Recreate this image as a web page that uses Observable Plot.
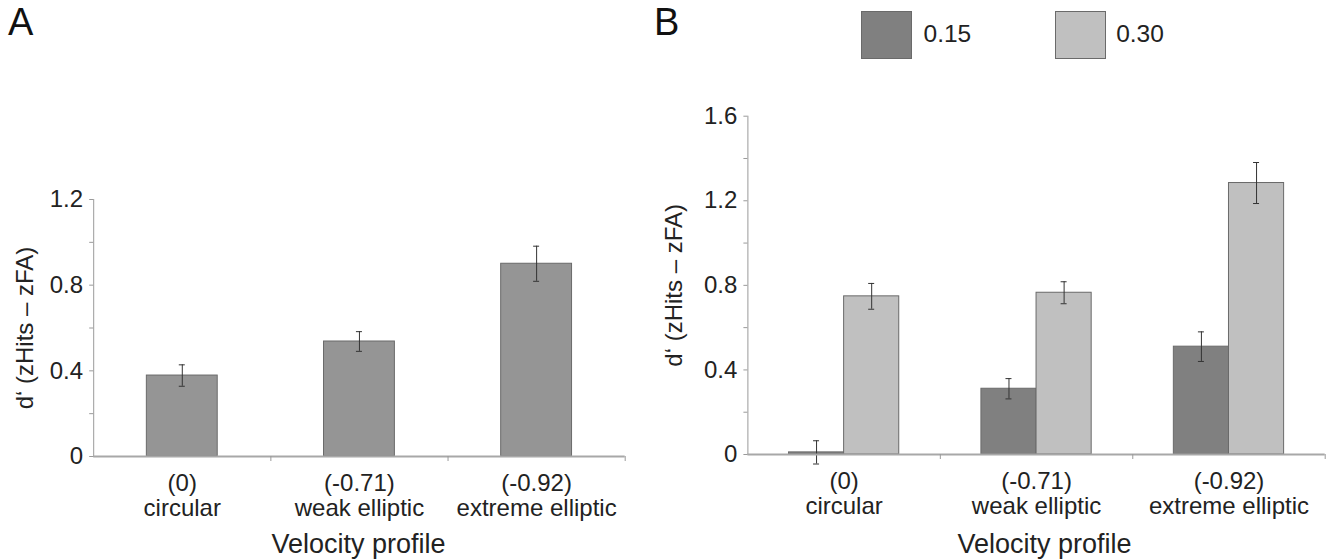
<!DOCTYPE html>
<html><head><meta charset="utf-8">
<script src="https://cdn.jsdelivr.net/npm/d3@7"></script>
<script src="https://cdn.jsdelivr.net/npm/@observablehq/plot@0.6"></script>
<style>
body{margin:0;background:#fff;}
#wrap{position:relative;width:1328px;height:560px;overflow:hidden;font-family:"Liberation Sans",Arial,sans-serif;color:#222;background:#fff;}
.abs{position:absolute;white-space:nowrap;}
</style></head><body><div id="wrap"></div>
<script>
// ---- data ----
const categories = ["circular", "weak elliptic", "extreme elliptic"];
const categoryCodes = ["(0)", "(-0.71)", "(-0.92)"];
const panelAValues = [0.378, 0.537, 0.900];
const panelAErrors = [0.050, 0.046, 0.082];
const seriesNames = ["0.15", "0.30"];
const seriesColors = ["#808080", "#c0c0c0"];
const panelB015Values = [0.010, 0.311, 0.510];
const panelB015Errors = [0.055, 0.048, 0.070];
const panelB030Values = [0.748, 0.765, 1.284];
const panelB030Errors = [0.061, 0.052, 0.097];
const yTicksA = [0, 0.4, 0.8, 1.2];
const yMinorA = [0.2, 0.6, 1.0];
const yTicksB = [0, 0.4, 0.8, 1.2, 1.6];
const yMinorB = [0.2, 0.6, 1.0, 1.4];
const xLabel = "Velocity profile";
const yLabel = "d\u2018 (zHits \u2013 zFA)";
const panelLabels = ["A", "B"];

const wrap = document.getElementById("wrap");
const FONT = "'Liberation Sans', Arial, sans-serif";

function makePanel(cfg) {
  const {width, height, marginLeft, marginRight, marginTop, marginBottom,
         yMax, yTicks, yMinor, series, yLabelDx, xLabelDx} = cfg;
  const paddingInner = cfg.paddingInner, paddingOuter = paddingInner / 2;
  const sc = Plot.scale({x: {type: "band", domain: categories, range: [marginLeft, width - marginRight],
                             paddingInner, paddingOuter, round: false}});
  const bw = sc.bandwidth;
  const step = sc.step ?? bw / (1 - paddingInner);
  const k = series.length;
  const sub = bw / k;
  const cap = 3;
  const marks = [];
  series.forEach((s, si) => {
    const data = categories.map((c, i) => ({cat: c, v: s.values[i], e: s.errors[i]}));
    marks.push(Plot.barY(data, {x: "cat", y: "v", fill: s.color, stroke: "#6a6a6a", strokeWidth: 1,
      insetLeft: si * sub, insetRight: (k - 1 - si) * sub}));
  });
  series.forEach((s, si) => {
    const data = categories.map((c, i) => ({cat: c, v: s.values[i], e: s.errors[i]}));
    const dx = (si + 0.5) * sub - bw / 2;
    marks.push(Plot.ruleX(data, {x: "cat", y1: d => d.v - d.e, y2: d => d.v + d.e, dx, stroke: "#333", strokeWidth: 1}));
    const iL = si * sub + sub / 2 - cap, iR = (k - 1 - si) * sub + sub / 2 - cap;
    marks.push(Plot.tickY(data, {x: "cat", y: d => d.v + d.e, insetLeft: iL, insetRight: iR, stroke: "#333", strokeWidth: 1}));
    marks.push(Plot.tickY(data, {x: "cat", y: d => d.v - d.e, insetLeft: iL, insetRight: iR, stroke: "#333", strokeWidth: 1}));
  });
  return Plot.plot({
    width, height, marginLeft, marginRight, marginTop, marginBottom,
    style: {fontFamily: FONT, fontSize: "24px", color: "#222", background: "transparent", overflow: "visible"},
    x: {type: "band", domain: categories, paddingInner, paddingOuter, round: false},
    y: {domain: [0, yMax]},
    marks: [
      ...marks,
      Plot.frame({anchor: "left", stroke: "#9a9a9a", strokeWidth: 1}),
      Plot.ruleY([0], {stroke: "#a8a8a8", strokeWidth: 2}),
      Plot.ruleX(categories, {x: d => d, dx: step / 2, y1: 0, y2: 0, insetBottom: -5, stroke: "#9a9a9a", strokeWidth: 1}),
      Plot.axisY({ticks: yTicks, tickSize: 4, tickPadding: 6.6, tickFormat: d => String(d), label: null, stroke: "#9a9a9a", fontSize: 24}),
      Plot.axisY({ticks: yMinor, tickSize: 4, tickFormat: () => "", label: null, stroke: "#9a9a9a"}),
      Plot.axisX({tickSize: 0, tickPadding: 17, lineHeight: 1.04, label: null, fontSize: 24,
        tickFormat: d => categoryCodes[categories.indexOf(d)] + "\n" + d}),
      Plot.text([xLabel], {frameAnchor: "bottom", textAnchor: "middle", lineAnchor: "middle",
        dy: cfg.xLabelDy, dx: xLabelDx, fontSize: 27}),
      Plot.text([yLabel], {frameAnchor: "left", textAnchor: "middle", lineAnchor: "middle",
        rotate: -90, dx: yLabelDx, fontSize: 24})
    ]
  });
}

const plotA = makePanel({
  width: 640, height: 560, marginLeft: 93.2, marginRight: 15.3, marginTop: 199, marginBottom: 104,
  yMax: 1.2, yTicks: yTicksA, yMinor: yMinorA, paddingInner: 0.6,
  series: [{values: panelAValues, errors: panelAErrors, color: "#959595"}],
  yLabelDx: 25 - 93.2, xLabelDx: -1, xLabelDy: 87.4
});
plotA.classList.add("abs");
plotA.style.left = "0px"; plotA.style.top = "0px";
wrap.appendChild(plotA);

const plotB = makePanel({
  width: 688, height: 560, marginLeft: 107.4, marginRight: 3.3, marginTop: 115.7, marginBottom: 106,
  yMax: 1.6, yTicks: yTicksB, yMinor: yMinorB, paddingInner: 0.427,
  series: [
    {values: panelB015Values, errors: panelB015Errors, color: seriesColors[0]},
    {values: panelB030Values, errors: panelB030Errors, color: seriesColors[1]}
  ],
  yLabelDx: 674 - 747.4, xLabelDx: 8, xLabelDy: 89.4
});
plotB.classList.add("abs");
plotB.style.left = "640px"; plotB.style.top = "0px";
wrap.appendChild(plotB);

// panel letters
[[panelLabels[0], 8], [panelLabels[1], 654]].forEach(([t, left]) => {
  const d = document.createElement("div");
  d.className = "abs";
  d.textContent = t;
  Object.assign(d.style, {left: left + "px", top: "3px", fontSize: "38px", lineHeight: "38px", color: "#111"});
  wrap.appendChild(d);
});

// legend
const legendSwatchX = [861.4, 1054.5];
const legendTextX = [923.5, 1116.2];
seriesNames.forEach((name, i) => {
  const sw = document.createElement("div");
  sw.className = "abs";
  Object.assign(sw.style, {left: legendSwatchX[i] + "px", top: "10.7px", width: "49px", height: "46px",
    background: seriesColors[i], border: "1px solid #6a6a6a"});
  wrap.appendChild(sw);
  const tx = document.createElement("div");
  tx.className = "abs";
  tx.textContent = name;
  Object.assign(tx.style, {left: legendTextX[i] + "px", top: "22px", fontSize: "24.5px", lineHeight: "24px", color: "#222"});
  wrap.appendChild(tx);
});
</script></body></html>
